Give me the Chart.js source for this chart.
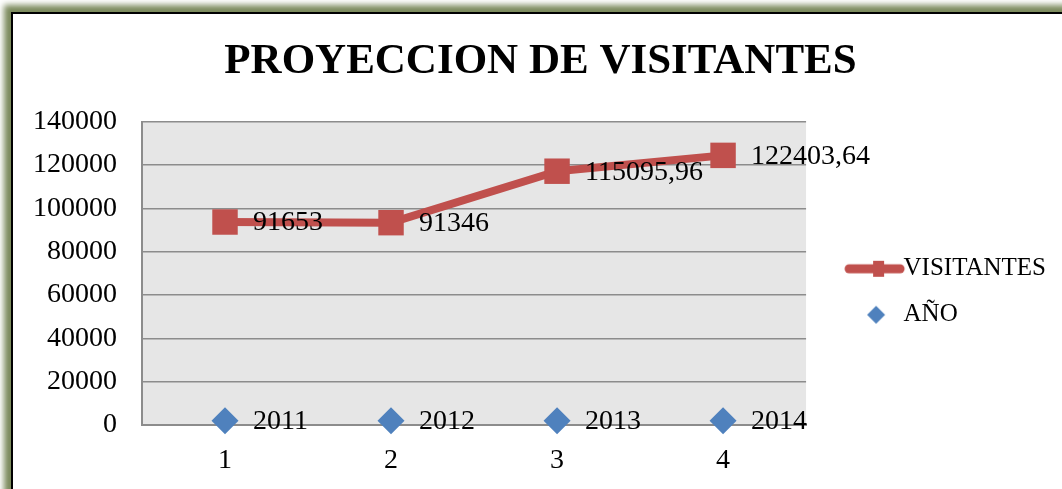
<!DOCTYPE html>
<html lang="es">
<head>
<meta charset="UTF-8" />
<title>Proyeccion de visitantes</title>
<script src="https://cdn.jsdelivr.net/npm/chart.js@4.4.1/dist/chart.umd.min.js"></script>
<style>
  html, body { margin: 0; padding: 0; background: #fff; overflow: hidden; }
  #wrap { position: relative; width: 1062px; height: 489px; overflow: hidden; background: #fff; }
  #frame {
    position: absolute; left: 11px; top: 12px; width: 1120px; height: 540px;
    background: #fff; border-left: 2px solid #000; border-top: 2px solid #000;
    box-shadow: 0 0 6px 7px #7b8a5c;
  }
  #chart { position: absolute; left: 0; top: 0; }
</style>
</head>
<body>
<div id="wrap">
  <div id="frame"></div>
  <canvas id="chart" width="1062" height="489"></canvas>
</div>
<script>
const categorias = ['1', '2', '3', '4'];
const visitantes = [91653, 91346, 115095.96, 122403.64];
const anios = [2011, 2012, 2013, 2014];
const yTicks = [0, 20000, 40000, 60000, 80000, 100000, 120000, 140000];

const ROJO = '#c0504d';
const AZUL = '#4f81bd';
const FUENTE = 'Liberation Serif';

// legend markers drawn onto small canvases (centre of canvas = centre of legend box)
function marcaLinea() {
  const c = document.createElement('canvas');
  c.width = 100; c.height = 24;
  const g = c.getContext('2d');
  g.strokeStyle = ROJO; g.lineWidth = 9; g.lineCap = 'round';
  g.beginPath(); g.moveTo(40, 12); g.lineTo(91, 12); g.stroke();
  g.fillStyle = ROJO; g.fillRect(64, 4, 11, 16);
  return c;
}
function marcaRombo() {
  const c = document.createElement('canvas');
  c.width = 100; c.height = 24;
  const g = c.getContext('2d');
  g.fillStyle = AZUL;
  g.beginPath(); g.moveTo(67, 3); g.lineTo(76, 12); g.lineTo(67, 21); g.lineTo(58, 12); g.closePath(); g.fill();
  return c;
}

const fondoPlot = {
  id: 'fondoPlot',
  beforeDraw(chart) {
    const a = chart.chartArea, ctx = chart.ctx;
    ctx.save();
    ctx.fillStyle = '#e6e6e6';
    ctx.fillRect(a.left, a.top, a.right - a.left, a.bottom - a.top);
    ctx.restore();
  }
};

const etiquetas = {
  id: 'etiquetas',
  afterDatasetsDraw(chart) {
    const ctx = chart.ctx;
    ctx.save();
    ctx.font = '28px "' + FUENTE + '"';
    ctx.fillStyle = '#000';
    ctx.textAlign = 'left';
    ctx.textBaseline = 'middle';
    chart.data.datasets.forEach((ds, i) => {
      chart.getDatasetMeta(i).data.forEach((pt, j) => {
        const txt = String(ds.data[j]).replace('.', ',');
        ctx.fillText(txt, pt.x + 28, pt.y + 1);
      });
    });
    ctx.restore();
  }
};

new Chart(document.getElementById('chart'), {
  type: 'line',
  data: {
    labels: categorias,
    datasets: [
      {
        label: 'AÑO',
        data: anios,
        showLine: false,
        clip: false,
        pointStyle: 'rectRot',
        pointRadius: 13.5,
        pointHoverRadius: 13.5,
        backgroundColor: AZUL,
        borderColor: AZUL,
        pointBorderWidth: 0
      },
      {
        label: 'VISITANTES',
        data: visitantes,
        clip: false,
        borderColor: ROJO,
        backgroundColor: ROJO,
        borderWidth: 8,
        borderCapStyle: 'round',
        borderJoinStyle: 'round',
        pointStyle: 'rect',
        pointRadius: 18,
        pointHoverRadius: 18,
        pointBorderWidth: 0,
        tension: 0
      }
    ]
  },
  options: {
    responsive: false,
    animation: false,
    layout: { padding: { top: 14, left: 25, right: 6, bottom: 13 } },
    plugins: {
      tooltip: { enabled: false },
      title: {
        display: true,
        text: 'PROYECCION DE VISITANTES',
        color: '#000',
        font: { family: FUENTE, size: 43, weight: 'bold' },
        padding: { top: 22, bottom: 34 }
      },
      legend: {
        position: 'right',
        title: { display: true, text: ' ', padding: 0, font: { size: 78 } },
        labels: {
          color: '#000',
          font: { family: FUENTE, size: 25 },
          usePointStyle: true,
          pointStyleWidth: 64,
          padding: 21,
          generateLabels(chart) {
            return [
              { text: 'VISITANTES', pointStyle: marcaLinea(), datasetIndex: 1, fontColor: '#000', lineWidth: 0 },
              { text: 'AÑO', pointStyle: marcaRombo(), datasetIndex: 0, fontColor: '#000', lineWidth: 0 }
            ];
          }
        }
      }
    },
    scales: {
      x: {
        offset: true,
        afterFit(scale) { scale.height = 51; },
        grid: { display: false, drawTicks: false },
        border: { color: '#8c8c8c', width: 2 },
        ticks: { color: '#000', padding: 19, font: { family: FUENTE, size: 28 } }
      },
      y: {
        stacked: true,
        min: 0,
        max: 140000,
        afterBuildTicks(scale) { scale.ticks = yTicks.map(v => ({ value: v })); },
        afterFit(scale) { scale.width = 117; },
        grid: { color: '#8c8c8c', lineWidth: 1.5, drawTicks: false },
        border: { color: '#8c8c8c', width: 2 },
        ticks: {
          color: '#000',
          padding: 25,
          font: { family: FUENTE, size: 28 },
          callback: v => String(v)
        }
      }
    }
  },
  plugins: [fondoPlot, etiquetas]
});
</script>
</body>
</html>
